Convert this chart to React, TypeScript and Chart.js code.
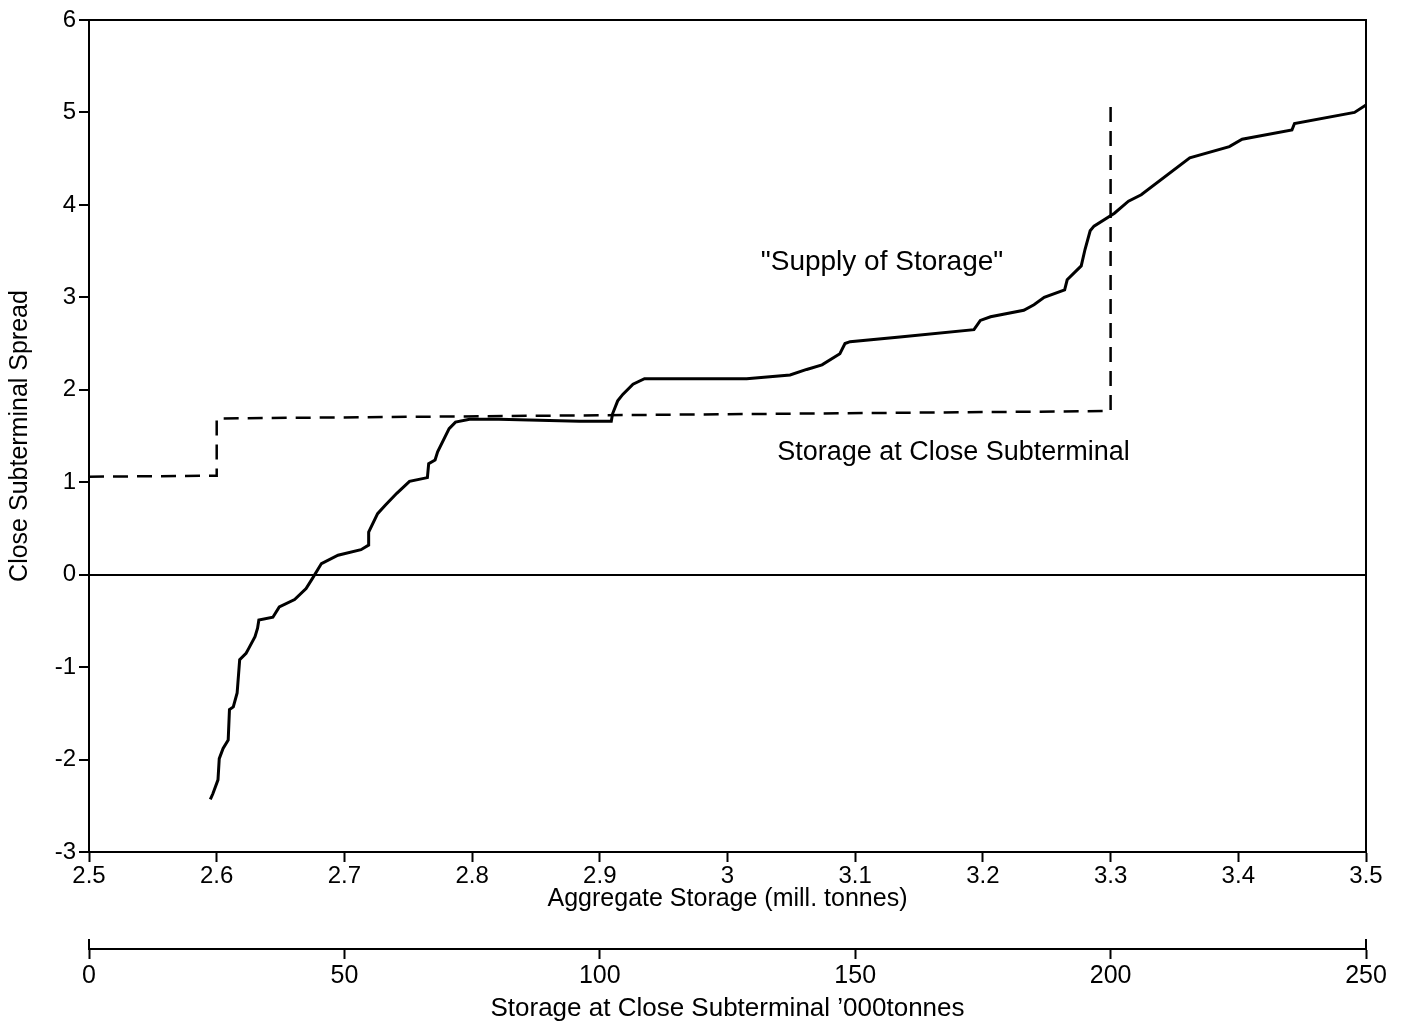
import React, { useEffect, useRef } from 'react';
import { Chart, registerables } from 'chart.js';

Chart.register(...registerables);

// "Supply of Storage" curve: aggregate storage (mill. tonnes) vs close subterminal spread
const supplyX = [
  2.595, 2.597, 2.601, 2.602, 2.605, 2.609, 2.610, 2.613, 2.616, 2.618,
  2.623, 2.625, 2.630, 2.632, 2.633, 2.644, 2.649, 2.661, 2.670, 2.675,
  2.682, 2.695, 2.713, 2.719, 2.719, 2.726, 2.732, 2.741, 2.751, 2.765,
  2.766, 2.771, 2.773, 2.782, 2.787, 2.798, 2.821, 2.884, 2.909, 2.910,
  2.914, 2.918, 2.926, 2.935, 3.015, 3.049, 3.062, 3.074, 3.088, 3.092,
  3.096, 3.135, 3.193, 3.198, 3.206, 3.232, 3.240, 3.248, 3.264, 3.266,
  3.277, 3.280, 3.284, 3.287, 3.303, 3.314, 3.324, 3.362, 3.393, 3.403,
  3.442, 3.444, 3.491, 3.500,
];
const supplyY = [
  -2.43, -2.37, -2.22, -1.99, -1.88, -1.79, -1.46, -1.43, -1.28, -0.92,
  -0.85, -0.80, -0.67, -0.58, -0.49, -0.46, -0.35, -0.27, -0.15, -0.04,
  0.12, 0.21, 0.27, 0.32, 0.46, 0.66, 0.75, 0.88, 1.01, 1.05,
  1.20, 1.24, 1.33, 1.58, 1.65, 1.68, 1.68, 1.66, 1.66, 1.74,
  1.88, 1.95, 2.06, 2.12, 2.12, 2.16, 2.22, 2.27, 2.39, 2.50,
  2.52, 2.57, 2.65, 2.75, 2.79, 2.86, 2.92, 3.00, 3.08, 3.19,
  3.34, 3.52, 3.72, 3.77, 3.91, 4.04, 4.11, 4.51, 4.63, 4.71,
  4.81, 4.88, 5.00, 5.08,
];

// "Storage at Close Subterminal" step line: '000 tonnes vs spread
const storageX = [0, 25, 25, 200, 200];
const storageY = [1.06, 1.07, 1.69, 1.77, 5.08];

const xTicks = [2.5, 2.6, 2.7, 2.8, 2.9, 3.0, 3.1, 3.2, 3.3, 3.4, 3.5];
const x2Ticks = [0, 50, 100, 150, 200, 250];
const yTicks = [-3, -2, -1, 0, 1, 2, 3, 4, 5, 6];

const annotationTexts = ['"Supply of Storage"', 'Storage at Close Subterminal'];
const annotationX = [3.121, 3.177];
const annotationY = [3.38, 1.32];

const FONT = "'Liberation Sans', Arial, Helvetica, sans-serif";

export default function App() {
  const ref = useRef<HTMLCanvasElement>(null);

  useEffect(() => {
    const canvas = ref.current;
    if (!canvas) return;

    const framePlugin = {
      id: 'frameAndLabels',
      afterDraw(chart: any) {
        const { ctx, chartArea: a } = chart;
        ctx.save();
        ctx.strokeStyle = '#000';
        ctx.lineWidth = 2;
        ctx.beginPath();
        ctx.moveTo(a.left, a.top);
        ctx.lineTo(a.right, a.top);
        ctx.lineTo(a.right, a.bottom);
        ctx.stroke();
        // upward tick marks at the ends of the lower axis
        const x2s = chart.scales.x2;
        const x2min = x2Ticks[0];
        const x2max = x2Ticks[x2Ticks.length - 1];
        ctx.beginPath();
        [x2min, x2max].forEach((v) => {
          const px = x2s.getPixelForValue(v);
          ctx.moveTo(px, x2s.top - 10);
          ctx.lineTo(px, x2s.top);
        });
        ctx.stroke();
        ctx.fillStyle = '#000';
        ctx.textAlign = 'center';
        ctx.textBaseline = 'middle';
        const xs = chart.scales.x;
        const ys = chart.scales.y;
        annotationTexts.forEach((t, i) => {
          ctx.font = `${i === 0 ? 28 : 27}px ${FONT}`;
          ctx.fillText(t, xs.getPixelForValue(annotationX[i]), ys.getPixelForValue(annotationY[i]));
        });
        ctx.restore();
      },
    };

    const chart = new Chart(canvas, {
      type: 'scatter',
      data: {
        datasets: [
          {
            label: 'Supply of Storage',
            data: supplyX.map((x, i) => ({ x, y: supplyY[i] })),
            xAxisID: 'x',
            yAxisID: 'y',
            showLine: true,
            borderColor: '#000',
            backgroundColor: '#000',
            borderWidth: 3,
            pointRadius: 0,
            fill: false,
          },
          {
            label: 'Storage at Close Subterminal',
            data: storageX.map((x, i) => ({ x, y: storageY[i] })),
            xAxisID: 'x2',
            yAxisID: 'y',
            showLine: true,
            borderColor: '#000',
            backgroundColor: '#000',
            borderWidth: 2.5,
            borderDash: [15, 9],
            pointRadius: 0,
            fill: false,
          },
        ],
      },
      options: {
        responsive: false,
        animation: false,
        layout: { padding: { top: 20, right: 50, left: 0, bottom: 0 } },
        plugins: { legend: { display: false }, tooltip: { enabled: false } },
        scales: {
          x: {
            type: 'linear',
            position: 'bottom',
            weight: 0,
            min: 2.5,
            max: 3.5,
            afterBuildTicks: (s: any) => { s.ticks = xTicks.map((v) => ({ value: v })); },
            afterFit: (s: any) => { s.height = 97; },
            ticks: {
              color: '#000',
              font: { family: FONT, size: 24 },
              padding: 0,
              maxRotation: 0,
              autoSkip: false,
              callback: (v: any) => String(Number(Number(v).toFixed(1))),
            },
            grid: { drawOnChartArea: false, drawTicks: true, tickLength: 10, tickColor: '#000', tickWidth: 2 },
            border: { display: true, color: '#000', width: 2 },
            title: {
              display: true,
              text: 'Aggregate Storage (mill. tonnes)',
              color: '#000',
              font: { family: FONT, size: 25 },
              padding: { top: 0, bottom: 35 },
            },
          },
          x2: {
            type: 'linear',
            position: 'bottom',
            weight: 1,
            min: 0,
            max: 250,
            afterBuildTicks: (s: any) => { s.ticks = x2Ticks.map((v) => ({ value: v })); },
            afterFit: (s: any) => { s.height = 79; },
            ticks: {
              color: '#000',
              font: { family: FONT, size: 25 },
              padding: 2,
              maxRotation: 0,
              autoSkip: false,
            },
            grid: { drawOnChartArea: false, drawTicks: true, tickLength: 10, tickColor: '#000', tickWidth: 2 },
            border: { display: true, color: '#000', width: 2 },
            title: {
              display: true,
              text: 'Storage at Close Subterminal \u2019000tonnes',
              color: '#000',
              font: { family: FONT, size: 26 },
              padding: { top: 0, bottom: 4 },
            },
          },
          y: {
            type: 'linear',
            position: 'left',
            min: -3,
            max: 6,
            afterBuildTicks: (s: any) => { s.ticks = yTicks.map((v) => ({ value: v })); },
            afterFit: (s: any) => { s.width = 89; },
            ticks: {
              color: '#000',
              font: { family: FONT, size: 24 },
              padding: 3,
              autoSkip: false,
            },
            grid: {
              drawOnChartArea: true,
              drawTicks: true,
              tickLength: 10,
              tickColor: '#000',
              tickWidth: 2,
              lineWidth: 2,
              color: (c: any) => (c.tick && c.tick.value === 0 ? '#000' : 'rgba(0,0,0,0)'),
            },
            border: { display: true, color: '#000', width: 2 },
            title: {
              display: true,
              text: 'Close Subterminal Spread',
              color: '#000',
              font: { family: FONT, size: 25 },
              padding: { top: 5, bottom: 0 },
            },
          },
        },
      },
      plugins: [framePlugin],
    } as any);

    return () => chart.destroy();
  }, []);

  return (
    <div style={{ position: 'fixed', left: 0, top: 0, width: 1416, height: 1028, background: '#fff' }}>
      <canvas ref={ref} width={1416} height={1028} style={{ display: 'block' }} />
    </div>
  );
}
